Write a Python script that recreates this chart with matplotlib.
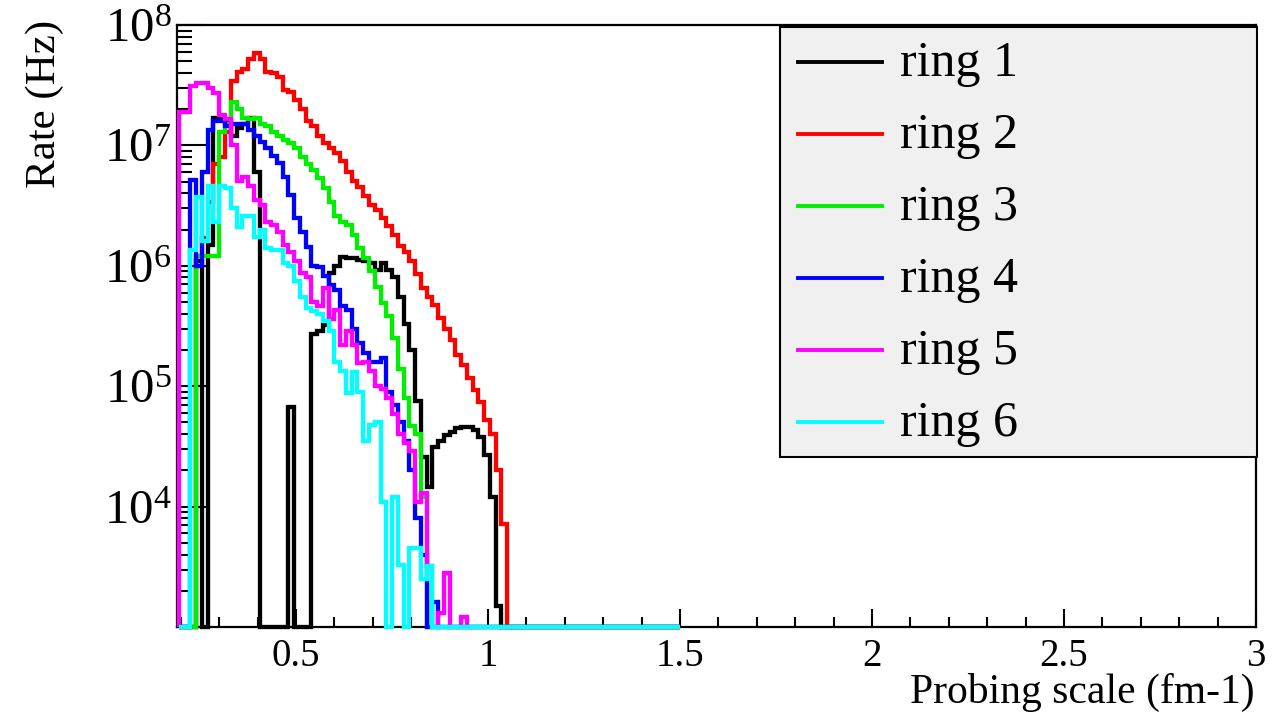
import numpy as np
import matplotlib.pyplot as plt
from matplotlib.lines import Line2D
from matplotlib.patches import Rectangle
from matplotlib.ticker import MultipleLocator, LogLocator, NullFormatter

plt.rcParams['font.family'] = ['Liberation Serif', 'DejaVu Serif']
plt.rcParams['mathtext.fontset'] = 'custom'
plt.rcParams['mathtext.rm'] = 'Liberation Serif'
plt.rcParams['mathtext.it'] = 'Liberation Serif:italic'

# histogram binning: width 0.015 fm-1, first shown bin starts at 0.195, range ends at 1.5
bin_width = 0.015
first_bin = 13
last_edge = 100
edges = np.arange(first_bin, last_edge + 1) * bin_width

# rates (Hz) per bin, bins 0.195 .. 1.05 ; bins above are empty up to 1.5
ring1 = [0, 0, 0, 1.1e6, 0, 1.5e6, 1.7e7, 1.7e7, 1.6e7, 1.2e7,
         1.4e7, 1.5e7, 1.7e7, 6e6, 0, 0, 0, 0, 0, 6.7e4,
         0, 0, 0, 2.7e5, 2.85e5, 3.2e5, 8.7e5, 1.0e6, 1.18e6, 1.15e6,
         1.15e6, 1.12e6, 1.1e6, 1.05e6, 9.3e5, 1.05e6, 9.3e5, 8e5, 5.5e5, 3.3e5,
         2e5, 7.6e4, 2.6e4, 1.45e4, 3.1e4, 3.5e4, 3.9e4, 4.2e4, 4.5e4, 4.6e4,
         4.6e4, 4.3e4, 3.8e4, 2.7e4, 1.2e4, 1.5e3, 0]
ring2 = [0, 0, 0, 1.2e6, 1.7e6, 3.4e6, 7e6, 8e6, 1.3e7, 3.4e7,
         4.1e7, 4.3e7, 5.2e7, 5.9e7, 5.2e7, 4.1e7, 4.0e7, 3.7e7, 2.9e7, 2.8e7,
         2.4e7, 2.0e7, 1.6e7, 1.45e7, 1.2e7, 1.05e7, 9.5e6, 8.7e6, 7.4e6, 6.0e6,
         5.1e6, 4.5e6, 3.8e6, 3.2e6, 2.9e6, 2.5e6, 2.15e6, 1.8e6, 1.45e6, 1.3e6,
         1.1e6, 8.5e5, 6.6e5, 5.5e5, 4.7e5, 3.7e5, 3.0e5, 2.4e5, 1.8e5, 1.5e5,
         1.17e5, 9.3e4, 7.4e4, 5.2e4, 4.0e4, 2.0e4, 7.2e3]
ring3 = [0, 0, 0, 1.2e6, 1.2e6, 1.2e6, 1.2e6, 1.3e7, 1.5e7, 2.3e7,
         2.0e7, 1.7e7, 1.65e7, 1.7e7, 1.5e7, 1.45e7, 1.3e7, 1.2e7, 1.1e7, 1.05e7,
         9.6e6, 8e6, 7e6, 6.3e6, 5.4e6, 4.4e6, 3.4e6, 2.6e6, 2.3e6, 2.2e6,
         1.8e6, 1.4e6, 1.15e6, 9e5, 6.7e5, 4.9e5, 3.8e5, 2.5e5, 1.4e5, 8e4,
         4.7e4, 4e4, 1.2e4, 0, 0, 0, 0, 0, 0, 0,
         0, 0, 0, 0, 0, 0, 0]
ring4 = [0, 0, 5.2e6, 1.0e6, 6e6, 1.35e7, 1.6e7, 1.6e7, 1.45e7, 1.5e7,
         1.5e7, 1.5e7, 1.35e7, 1.2e7, 1.06e7, 9.6e6, 8.1e6, 7.2e6, 5.5e6, 3.9e6,
         2.5e6, 1.9e6, 1.44e6, 1.0e6, 9.8e5, 8.2e5, 6.9e5, 6.3e5, 4.6e5, 4.3e5,
         3e5, 2.3e5, 1.9e5, 1.6e5, 1.6e5, 1.7e5, 9e4, 7e4, 5e4, 3.5e4,
         2e4, 8e3, 4e3, 0, 1.6e3, 0, 0, 0, 0, 0,
         0, 0, 0, 0, 0, 0, 0]
ring5 = [1.9e7, 1.9e7, 3.1e7, 3.3e7, 3.3e7, 3.0e7, 2.7e7, 1.8e7, 1.65e7, 1.0e7,
         5.1e6, 5.5e6, 4.6e6, 3.5e6, 3.2e6, 2.3e6, 2.2e6, 1.9e6, 1.5e6, 1.3e6,
         1.1e6, 8.7e5, 8e5, 5e5, 4.6e5, 6.5e5, 3.6e5, 4.3e5, 2.2e5, 2.9e5,
         2.2e5, 1.55e5, 1.6e5, 1.35e5, 1.0e5, 9.5e4, 8e4, 5.9e4, 4e4, 3.4e4,
         2.9e4, 1.1e4, 1.3e4, 3.2e3, 0, 1.3e3, 2.8e3, 0, 0, 1.2e3,
         0, 0, 0, 0, 0, 0, 0]
ring6 = [0, 0, 1.35e6, 3.7e6, 1.6e6, 4.6e6, 2.3e6, 4.6e6, 4.4e6, 3.0e6,
         2.1e6, 2.6e6, 2.6e6, 1.75e6, 2.0e6, 1.4e6, 1.35e6, 1.35e6, 1.05e6, 1.0e6,
         7.5e5, 5.5e5, 4.5e5, 4.2e5, 4e5, 3.5e5, 2.9e5, 1.6e5, 1.35e5, 8.7e4,
         1.3e5, 9e4, 3.5e4, 4.8e4, 5e4, 1.1e4, 0, 1.2e4, 3.3e3, 0,
         4.5e3, 4.5e3, 2.5e3, 3.2e3, 0, 0, 0, 0, 0, 0,
         0, 0, 0, 0, 0, 0, 0]

labels = ['ring 1', 'ring 2', 'ring 3', 'ring 4', 'ring 5', 'ring 6']
colors = ['#000000', '#ff0000', '#00ee00', '#0000ff', '#ff00ff', '#00ffff']
ymin, ymax = 1e3, 1e8

W, H = 1278, 713
fig = plt.figure(figsize=(W / 100, H / 100), dpi=100)
ax = fig.add_axes([177 / W, 1 - 627 / H, (1256 - 177) / W, (627 - 25) / H])

n_bins = len(edges) - 1
for vals, col in zip([ring1, ring2, ring3, ring4, ring5, ring6], colors):
    v = np.zeros(n_bins)
    v[:len(vals)] = vals
    v = np.maximum(v, ymin)  # empty bins drawn on the frame bottom (log scale)
    ax.stairs(v, edges, baseline=ymin, color=col, lw=3.1, joinstyle='miter',
              zorder=3, clip_on=False)

ax.set_yscale('log')
ax.set_xlim(0.19, 3.0)
ax.set_ylim(ymin, ymax)

ax.set_xticks([0.5, 1, 1.5, 2, 2.5, 3], labels=['0.5', '1', '1.5', '2', '2.5', '3'])
ax.xaxis.set_minor_locator(MultipleLocator(0.1))
ax.set_yticks([1e4, 1e5, 1e6, 1e7, 1e8],
              labels=[r'$10^{4}$', r'$10^{5}$', r'$10^{6}$', r'$10^{7}$', r'$10^{8}$'])
ax.yaxis.set_minor_locator(LogLocator(base=10, subs=np.arange(2, 10)))
ax.yaxis.set_minor_formatter(NullFormatter())

ax.tick_params(axis='x', which='major', direction='in', length=13, width=1.5,
               labelsize=28, pad=8, top=False)
ax.tick_params(axis='x', which='minor', direction='in', length=7, width=1.5, top=False)
ax.tick_params(axis='y', which='major', direction='in', length=21, width=1.5,
               labelsize=35, pad=4, right=False)
ax.tick_params(axis='y', which='minor', direction='in', length=11, width=1.5, right=False)
for s in ax.spines.values():
    s.set_linewidth(1.6)

fig.text(45 / W, 1 - 20 / H, 'Rate (Hz)', rotation=90, ha='center', va='top', fontsize=31)
fig.text(1255 / W, 1 - 692 / H, 'Probing scale (fm-1)', ha='right', va='center', fontsize=30)

# legend box
fig.add_artist(Rectangle((780 / W, 1 - 457 / H), (1257 - 780) / W, (457 - 27) / H,
                         transform=fig.transFigure, facecolor='#f0f0f0',
                         edgecolor='black', lw=1.5, zorder=5))
for i, (lab, col) in enumerate(zip(labels, colors)):
    yl = 62 + 72 * i
    fig.add_artist(Line2D([798 / W, 882 / W], [1 - yl / H, 1 - yl / H],
                          transform=fig.transFigure, color=col, lw=2.8, zorder=6))
    fig.text(900 / W, 1 - (yl + 14) / H, lab, ha='left', va='baseline',
             fontsize=36, zorder=6)

fig.savefig('out.png', dpi=100)
